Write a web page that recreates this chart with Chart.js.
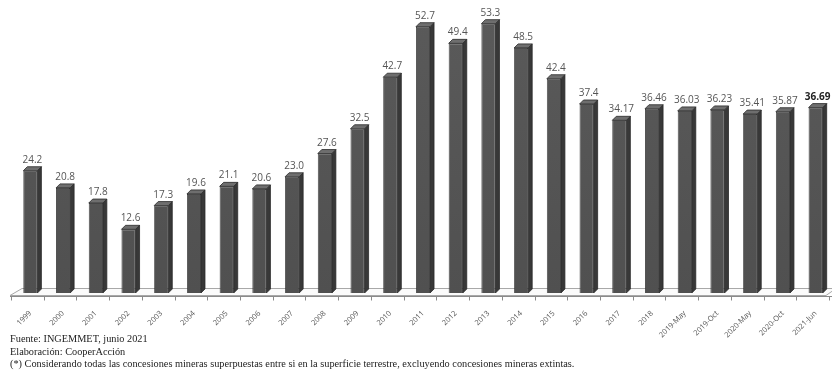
<!DOCTYPE html>
<html>
<head>
<meta charset="utf-8">
<script src="https://cdn.jsdelivr.net/npm/chart.js@4.4.1/dist/chart.umd.min.js"></script>
<style>
  body { margin: 0; background: #fff; }
  .chartBox { position: relative; width: 832px; height: 375px; }
  .notes { position: absolute; left: 10px; top: 333px; font-family: "Liberation Serif", "DejaVu Serif", serif; font-size: 10.3px; line-height: 12.5px; color: #222; }
</style>
</head>
<body>
<div class="chartBox">
  <canvas id="chart" width="832" height="375"></canvas>
  <div class="notes">
    <div>Fuente: INGEMMET, junio 2021</div>
    <div>Elaboración: CooperAcción</div>
    <div>(*) Considerando todas las concesiones mineras superpuestas entre si en la superficie terrestre, excluyendo concesiones mineras extintas.</div>
  </div>
</div>
<script>
const labels = ['1999', '2000', '2001', '2002', '2003', '2004', '2005', '2006', '2007', '2008',
  '2009', '2010', '2011', '2012', '2013', '2014', '2015', '2016', '2017', '2018',
  '2019-May', '2019-Oct', '2020-May', '2020-Oct', '2021-Jun'];
const values = [24.2, 20.8, 17.8, 12.6, 17.3, 19.6, 21.1, 20.6, 23.0, 27.6,
  32.5, 42.7, 52.7, 49.4, 53.3, 48.5, 42.4, 37.4, 34.17, 36.46,
  36.03, 36.23, 35.41, 35.87, 36.69];
// text shown on top of each bar (keeps the trailing zero of 23.0)
const valueText = ['24.2', '20.8', '17.8', '12.6', '17.3', '19.6', '21.1', '20.6', '23.0', '27.6',
  '32.5', '42.7', '52.7', '49.4', '53.3', '48.5', '42.4', '37.4', '34.17', '36.46',
  '36.03', '36.23', '35.41', '35.87', '36.69'];

const DX = 4, DY = 4; // depth of the fake 3d

// floor + axis with ticks under the bars
const floor3d = {
  id: 'floor3d',
  beforeDatasetsDraw(chart) {
    const { ctx, chartArea, scales: { x, y } } = chart;
    const base = y.getPixelForValue(0);
    const front = base + 2.5, back = base - 4.5;
    ctx.save();
    ctx.strokeStyle = '#a8a8a8';
    ctx.lineWidth = 1;
    ctx.fillStyle = '#fbfbfb';
    ctx.beginPath();
    ctx.moveTo(chartArea.left - 4, front);
    ctx.lineTo(chartArea.left + 8, back);
    ctx.lineTo(chartArea.right + 4, back);
    ctx.lineTo(chartArea.right - 6, front);
    ctx.closePath();
    ctx.fill();
    ctx.stroke();
    // front axis line + ticks
    ctx.strokeStyle = '#8a8a8a';
    ctx.beginPath();
    ctx.moveTo(chartArea.left - 4, front + 1);
    ctx.lineTo(chartArea.right, front + 1);
    const w = x.getPixelForValue(1) - x.getPixelForValue(0);
    for (let i = 0; i <= labels.length; i++) {
      const xp = Math.round(x.getPixelForValue(i) - w / 2 - 3) + 0.5;
      ctx.moveTo(xp, front + 1);
      ctx.lineTo(xp, front + 5);
    }
    ctx.stroke();
    ctx.restore();
  }
};

// side and top faces of each bar, and the value labels
const bars3d = {
  id: 'bars3d',
  afterDatasetsDraw(chart) {
    const { ctx } = chart;
    const meta = chart.getDatasetMeta(0);
    meta.data.forEach((bar, i) => {
      const { x, y, base, width } = bar.getProps(['x', 'y', 'base', 'width'], true);
      const l = x - width / 2, r = x + width / 2;
      ctx.save();
      ctx.lineWidth = 0.8;
      ctx.strokeStyle = '#2a2a2a';
      // side
      ctx.fillStyle = '#383838';
      ctx.beginPath();
      ctx.moveTo(r, y);
      ctx.lineTo(r + DX, y - DY);
      ctx.lineTo(r + DX, base - DY);
      ctx.lineTo(r, base);
      ctx.closePath();
      ctx.fill();
      ctx.stroke();
      // top
      ctx.fillStyle = '#6e6e6e';
      ctx.beginPath();
      ctx.moveTo(l, y);
      ctx.lineTo(l + DX, y - DY);
      ctx.lineTo(r + DX, y - DY);
      ctx.lineTo(r, y);
      ctx.closePath();
      ctx.fill();
      ctx.stroke();
      // label
      const last = i === values.length - 1;
      ctx.font = (last ? 'bold ' : '') + '10px "Open Sans", sans-serif';
      ctx.fillStyle = last ? '#222' : '#555';
      ctx.textAlign = 'center';
      ctx.textBaseline = 'alphabetic';
      ctx.fillText(valueText[i], x + 2, y - DY - 4);
      ctx.restore();
    });
  }
};

const chart = new Chart(document.getElementById('chart'), {
  type: 'bar',
  data: {
    labels: labels,
    datasets: [{
      data: values,
      backgroundColor: (c) => {
        const a = c.chart.chartArea;
        if (!a) return '#555';
        const g = c.chart.ctx.createLinearGradient(0, a.top, 0, a.bottom);
        g.addColorStop(0, '#5a5a5a');
        g.addColorStop(1, '#505050');
        return g;
      },
      borderColor: '#2a2a2a',
      borderWidth: 0.8,
      categoryPercentage: 1,
      barPercentage: 0.43
    }]
  },
  options: {
    responsive: false,
    animation: false,
    layout: { padding: { left: 14, right: 0, top: 10, bottom: 0 } },
    plugins: { legend: { display: false }, tooltip: { enabled: false } },
    scales: {
      x: {
        grid: { display: false },
        border: { display: false },
        ticks: {
          minRotation: 45, maxRotation: 45, autoSkip: false,
          color: '#555', font: { size: 7.5, family: '"Open Sans", sans-serif' },
          padding: 8
        },
        afterFit: (s) => { s.height = 82; }
      },
      y: { display: false, min: 0, max: 56 }
    }
  },
  plugins: [floor3d, bars3d]
});
</script>
</body>
</html>
